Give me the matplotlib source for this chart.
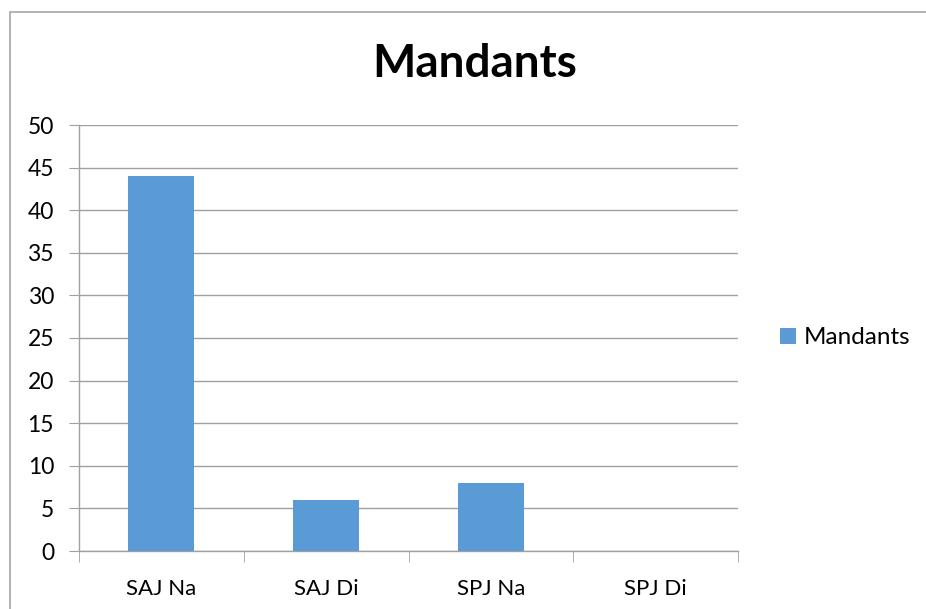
import matplotlib
matplotlib.use("Agg")
import matplotlib.pyplot as plt
from matplotlib.patches import Rectangle

# Data
categories = ["SAJ Na", "SAJ Di", "SPJ Na", "SPJ Di"]
mandants = [44, 6, 8, 0]
series_name = "Mandants"

plt.rcParams['font.family'] = ['Lato', 'DejaVu Sans']

W, H = 926, 609
fig = plt.figure(figsize=(W / 100, H / 100), dpi=100)

# Outer chart border (Excel style)
fig.patches.append(Rectangle((10 / W, -0.01), 1.0, 1 - 12 / H + 0.01,
                             transform=fig.transFigure, fill=False,
                             edgecolor="#A6A6A6", linewidth=1.2))

ax = fig.add_axes([79 / W, 1 - 551 / H, (738 - 79) / W, (551 - 125) / H])

x = list(range(len(categories)))
ax.bar(x, mandants, width=0.4, color="#5B9BD5", label=series_name, zorder=3)

ax.set_xlim(-0.5, len(categories) - 0.5)
ax.set_ylim(0, 50)
ax.set_yticks(range(0, 51, 5))
ax.set_xticks(x)
ax.set_xticklabels(categories)
ax.set_xticks([i - 0.5 for i in range(len(categories) + 1)], minor=True)

ax.grid(axis="y", color="#A0A0A0", linewidth=1.0, zorder=0)
for s in ["top", "right"]:
    ax.spines[s].set_visible(False)
for s in ["left", "bottom"]:
    ax.spines[s].set_color("#A0A0A0")
    ax.spines[s].set_linewidth(1.0)

ax.tick_params(axis="y", length=7, color="#A0A0A0", labelsize=16.5, pad=11)
ax.tick_params(axis="x", which="major", length=0, labelsize=16, pad=20)
ax.tick_params(axis="x", which="minor", length=8, color="#A0A0A0")

fig.text(475 / W, 1 - 64 / H, "Mandants", ha="center", va="center",
         fontsize=33, fontweight="bold")

ax.legend(loc="center left", bbox_to_anchor=(1.064, 0.5), frameon=False,
          fontsize=17.5, handlelength=0.65, handleheight=0.65,
          handletextpad=0.3, borderaxespad=0, borderpad=0)

fig.savefig("out.png", dpi=100)
